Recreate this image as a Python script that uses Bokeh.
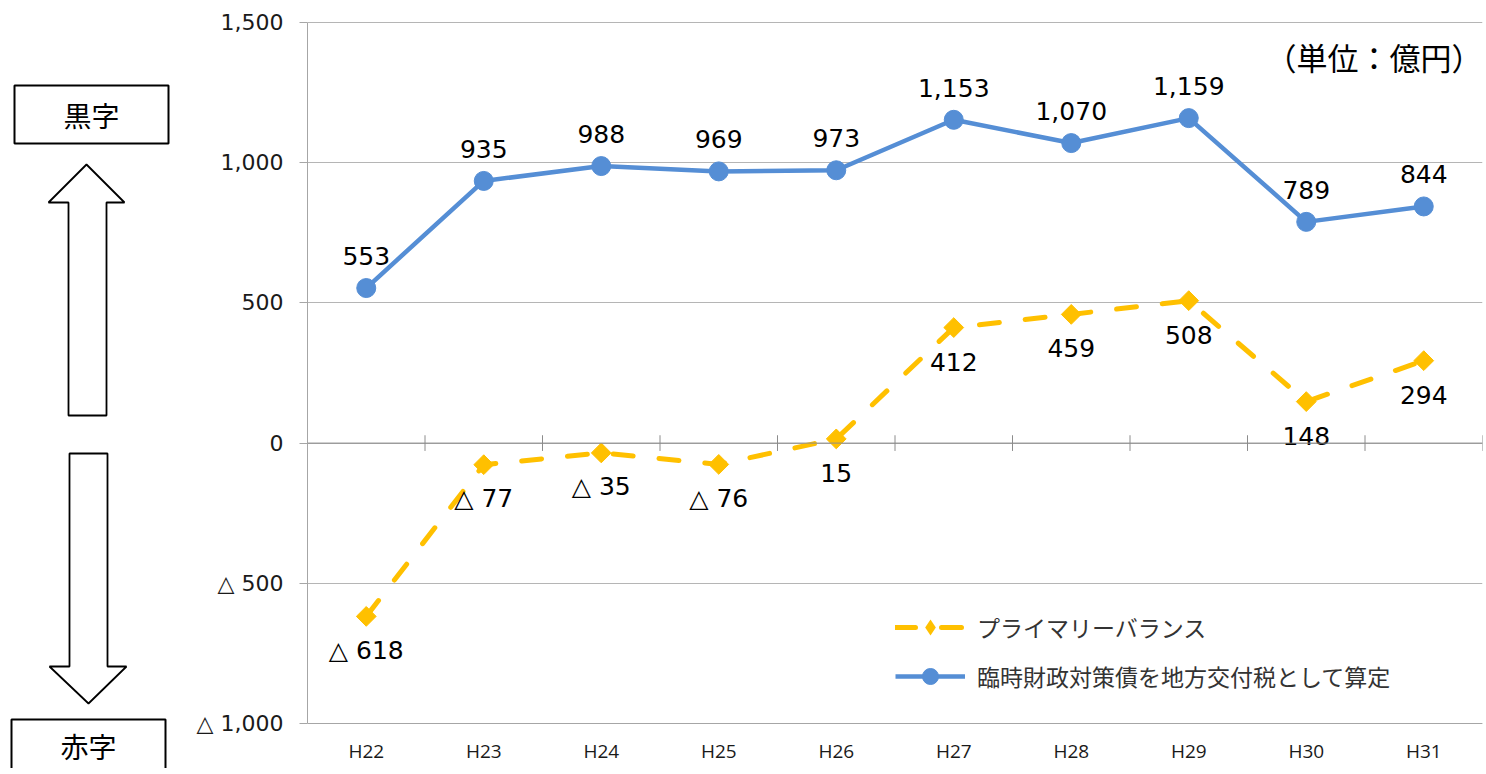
import math
from bokeh.plotting import figure
from bokeh.models import Range1d, FixedTicker, Legend, LegendItem, ColumnDataSource, Label, Span
from bokeh.layouts import row
from bokeh.embed import file_html
from bokeh.resources import INLINE
from bokeh.core.properties import value

# ---- data ----
categories = ["H22", "H23", "H24", "H25", "H26", "H27", "H28", "H29", "H30", "H31"]
pb_values = [-618, -77, -35, -76, 15, 412, 459, 508, 148, 294]
rinji_values = [553, 935, 988, 969, 973, 1153, 1070, 1159, 789, 844]
y_ticks = [-1000, -500, 0, 500, 1000, 1500]
y_tick_labels = ["△ 1,000", "△ 500", "0", "500", "1,000", "1,500"]
series_names = ["プライマリーバランス", "臨時財政対策債を地方交付税として算定"]
unit_label = "（単位：億円）"
side_labels = ["黒字", "赤字"]

BLUE = "#558ED5"
GOLD = "#FFC000"
JP = "Noto Sans CJK JP"
NUM = "DejaVu Sans"
H = 768                 # canvas height (px)
TOP_PX, BOT_PX = 22, 723  # where the value axis starts/ends on the canvas

# value range padded so that the axis occupies TOP_PX..BOT_PX of a full-height frame
ymin, ymax = y_ticks[0], y_ticks[-1]
upp = (ymax - ymin) / (BOT_PX - TOP_PX)
y_lo = ymin - (H - BOT_PX) * upp
y_hi = ymax + TOP_PX * upp


def fmt(v):
    return ("△ " if v < 0 else "") + f"{abs(v):,}"


xs = list(range(len(categories)))
src = ColumnDataSource(dict(
    x=xs, pb=pb_values, rinji=rinji_values,
    pb_lab=[fmt(v) for v in pb_values],
    rinji_lab=[fmt(v) for v in rinji_values],
))

# ---- main chart ----
p = figure(width=1301, height=H,
           x_range=Range1d(-0.5, len(categories) - 0.5),
           y_range=Range1d(y_lo, y_hi),
           x_axis_type=None,
           output_backend="svg", toolbar_location=None,
           min_border_left=124, min_border_right=2,
           min_border_top=0, min_border_bottom=0)
p.outline_line_color = None
p.background_fill_color = "white"
p.xgrid.visible = False
p.ygrid.ticker = FixedTicker(ticks=y_ticks)
p.ygrid.grid_line_color = "#B5B5B5"
p.ygrid.grid_line_width = 1

p.yaxis.ticker = FixedTicker(ticks=y_ticks)
p.yaxis.bounds = (ymin, ymax)
p.yaxis.major_label_overrides = {t: l for t, l in zip(y_ticks, y_tick_labels)}
p.yaxis.axis_line_color = "#A6A6A6"
p.yaxis.major_tick_line_color = "#A6A6A6"
p.yaxis.major_tick_out = 8
p.yaxis.major_tick_in = 0
p.yaxis.minor_tick_line_color = None
p.yaxis.major_label_standoff = 16
p.yaxis.major_label_text_font = NUM
p.yaxis.major_label_text_font_size = "22px"
p.yaxis.major_label_text_color = "#1a1a1a"

# bottom category axis line + labels
p.add_layout(Span(location=ymin, dimension="width", line_color="#A6A6A6", line_width=1))
p.text(x=xs, y=[ymin] * len(xs), text=categories, text_align="center",
       text_baseline="middle", y_offset=27, text_font=value("Open Sans"),
       text_font_size="19px", text_color="#1a1a1a")

# zero axis line with cross ticks at category boundaries
p.add_layout(Span(location=0, dimension="width", line_color="#8C8C8C", line_width=1))
bounds = [i + 0.5 for i in xs]
p.segment(x0=bounds, x1=bounds, y0=[-28] * len(bounds), y1=[28] * len(bounds),
          line_color="#8C8C8C", line_width=1)

r_pb_line = p.line("x", "pb", source=src, line_color=GOLD, line_width=5,
                   line_dash="20 26", line_cap="round")
p.scatter("x", "pb", source=src, marker="square", angle=math.pi / 4, size=14,
          fill_color=GOLD, line_color=GOLD)
r_b_line = p.line("x", "rinji", source=src, line_color=BLUE, line_width=4.5)
r_b_mk = p.scatter("x", "rinji", source=src, marker="circle", size=19,
                   fill_color=BLUE, line_color=BLUE)
# legend-only marker (drawn at negligible size in the plot) so that the legend shows a diamond
r_pb_leg = p.scatter("x", "pb", source=src, marker="diamond", size=0.01,
                     fill_color=GOLD, line_color=GOLD, line_width=0)

p.text("x", "rinji", text="rinji_lab", source=src, text_align="center",
       text_baseline="middle", y_offset=-32, text_font=value(NUM),
       text_font_size="25px", text_color="#000000")
p.text("x", "pb", text="pb_lab", source=src, text_align="center",
       text_baseline="middle", y_offset=34, text_font=value(NUM),
       text_font_size="25px", text_color="#000000")

legend = Legend(items=[LegendItem(label=series_names[0], renderers=[r_pb_line, r_pb_leg]),
                       LegendItem(label=series_names[1], renderers=[r_b_line, r_b_mk])],
                location=(588, H - 696), orientation="vertical",
                glyph_width=70, glyph_height=40, label_height=40, spacing=9,
                padding=0, margin=0, label_standoff=12,
                border_line_alpha=0, background_fill_alpha=0,
                label_text_font=JP, label_text_font_size="23px",
                label_text_color="#333333")
p.add_layout(legend)

p.add_layout(Label(x=len(categories) - 0.5, y=1378, text=unit_label, x_offset=0,
                   text_align="right", text_baseline="middle",
                   text_font=JP, text_font_size="31px", text_color="#000000"))

# ---- left side decoration (黒字 / 赤字 with arrows), canvas pixel coordinates ----
left = figure(width=183, height=H, x_range=Range1d(0, 183), y_range=Range1d(H, 0),
              x_axis_type=None, y_axis_type=None,
              output_backend="svg", toolbar_location=None, min_border=0)
left.grid.visible = False
left.outline_line_color = None

left.quad(left=14, right=168, top=85, bottom=143, fill_color="white",
          line_color="black", line_width=2)
left.line(x=[11, 11, 165, 165], y=[H + 5, 719, 719, H + 5], line_color="black", line_width=2)
left.patch(x=[86, 124, 106, 106, 68, 68, 48], y=[164, 202, 202, 415, 415, 202, 202],
           fill_color="white", line_color="black", line_width=1.8)
left.patch(x=[69, 107, 107, 126, 88, 49, 69], y=[453, 453, 666, 666, 703, 666, 666],
           fill_color="white", line_color="black", line_width=1.8)
left.text(x=[91, 88], y=[114, 745], text=side_labels, text_align="center",
          text_baseline="middle", text_font=value(JP), text_font_size="28px",
          text_color="#000000")

layout = row(left, p)
open("out.html", "w").write(file_html(layout, INLINE))
